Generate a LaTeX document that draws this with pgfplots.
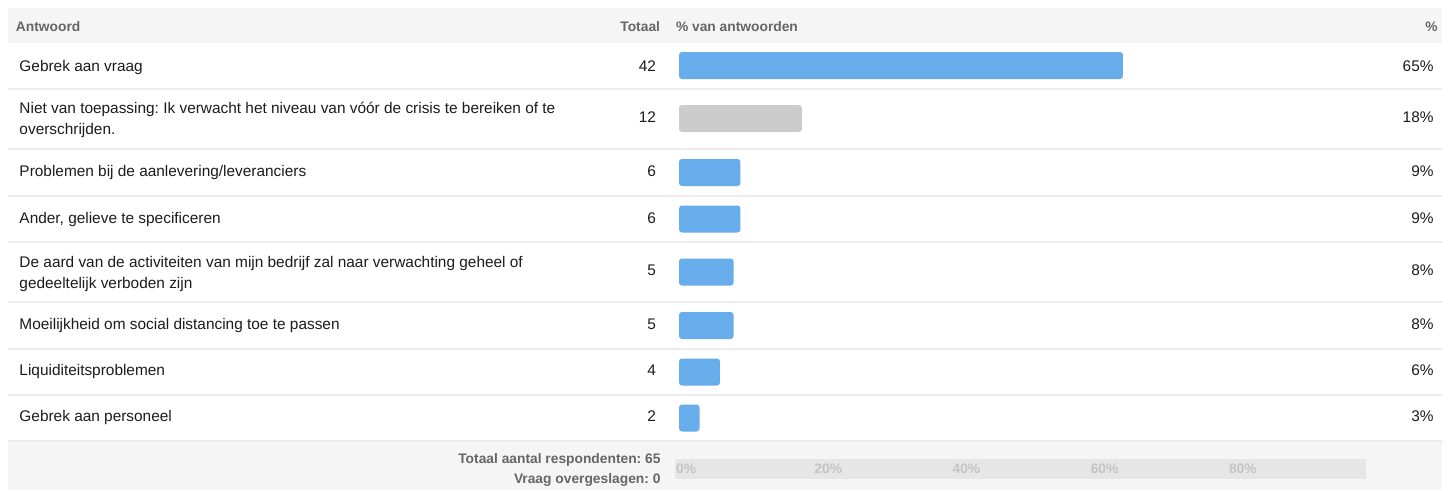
\documentclass[border=0pt]{standalone}
\usepackage{fontspec}
\setmainfont{Liberation Sans}
\usepackage{pgfplots}
\usepackage{pgfplotstable}
\pgfplotsset{compat=1.18}
\frenchspacing
\definecolor{headbg}{HTML}{F5F5F5}
\definecolor{sepc}{HTML}{EBEBEB}
\definecolor{headtxt}{HTML}{666666}
\definecolor{barblue}{HTML}{67ACEB}
\definecolor{bargray}{HTML}{CCCCCC}
\definecolor{footaxis}{HTML}{E6E6E6}
\definecolor{footlbl}{HTML}{C4C4C4}
\definecolor{bodytxt}{HTML}{1C1C1C}

% row centre (negative pixel y) and percentage
\pgfplotstableread{
y pct
-65.5 65
-172.5 9
-219 9
-272 8
-325.5 8
-372 6
-418 3
}\bluebars
\pgfplotstableread{
y pct
-118.5 18
}\graybars

\newcommand{\bodyf}{\fontsize{15.4}{18}\selectfont}
\newcommand{\headf}{\fontsize{13.8}{16}\selectfont\bfseries}

\begin{document}
\begin{tikzpicture}
\begin{scope}[x=1pt,y=-1pt]
  \fill[white] (0,0) rectangle (1450,490);
  \fill[headbg] (8,8) rectangle (1442,43);
  \fill[headbg] (8,441) rectangle (1442,490);
  \foreach \yy in {88.5,149,196,242.3,301.7,349,395,441}
    \fill[sepc] (8,\yy-1) rectangle (1442,\yy+1);
\end{scope}

\begin{axis}[
  at={(679pt,-441pt)}, anchor=south west,
  scale only axis, width=683pt, height=398pt,
  xmin=0, xmax=100, ymin=-441, ymax=-43,
  axis line style={draw=none}, tick style={draw=none},
  xtick=\empty, ytick=\empty,
  xbar, bar width=27pt, bar shift=0pt, clip=false,
]
  \addplot[fill=barblue, draw=none, rounded corners=3pt] table[x=pct, y=y] {\bluebars};
  \addplot[fill=bargray, draw=none, rounded corners=3pt] table[x=pct, y=y] {\graybars};
\end{axis}

\begin{axis}[
  at={(675pt,-479pt)}, anchor=south west,
  scale only axis, width=691pt, height=20pt,
  xmin=0, xmax=100, ymin=0, ymax=1,
  axis line style={draw=none}, tick style={draw=none},
  ytick=\empty, xtick={0,20,40,60,80},
  xticklabels={0\%,20\%,40\%,60\%,80\%},
  xticklabel style={anchor=west, inner sep=0pt, xshift=1pt, yshift=10pt,
    font=\fontsize{13.8}{16}\selectfont\bfseries, text=footlbl},
  axis background/.style={fill=footaxis},
]
\end{axis}

\begin{scope}[x=1pt,y=-1pt, every node/.style={inner sep=0pt, outer sep=0pt}]
  % header
  \node[anchor=base west, text=headtxt, font=\headf] at (16,31.5) {Antwoord};
  \node[anchor=base east, text=headtxt, font=\headf] at (660,31.5) {Totaal};
  \node[anchor=base west, text=headtxt, font=\headf] at (676,31.5) {\% van antwoorden};
  \node[anchor=base east, text=headtxt, font=\headf] at (1437.5,31.5) {\%};
  % labels
  \begin{scope}[every node/.append style={anchor=base west, text=bodytxt, font=\bodyf}]
    \node at (19.5,71) {Gebrek aan vraag};
    \node at (19.5,113.5) {Niet van toepassing: Ik verwacht het niveau van vóór de crisis te bereiken of te};
    \node at (19.5,134.5) {overschrijden.};
    \node at (19.5,176) {Problemen bij de aanlevering/leveranciers};
    \node at (19.5,223.3) {Ander, gelieve te specificeren};
    \node at (19.5,267.3) {De aard van de activiteiten van mijn bedrijf zal naar verwachting geheel of};
    \node at (19.5,288.3) {gedeeltelijk verboden zijn};
    \node at (19.5,329.5) {Moeilijkheid om social distancing toe te passen};
    \node at (19.5,375.5) {Liquiditeitsproblemen};
    \node at (19.5,421.7) {Gebrek aan personeel};
  \end{scope}
  \begin{scope}[every node/.append style={anchor=base east, text=bodytxt, font=\bodyf}]
    \node at (656,71) {42};
    \node at (656,122.5) {12};
    \node at (656,176) {6};
    \node at (656,223.3) {6};
    \node at (656,275.8) {5};
    \node at (656,329.5) {5};
    \node at (656,375.5) {4};
    \node at (656,421.7) {2};
    \node at (1433.5,71) {65\%};
    \node at (1433.5,122.5) {18\%};
    \node at (1433.5,176) {9\%};
    \node at (1433.5,223.3) {9\%};
    \node at (1433.5,275.8) {8\%};
    \node at (1433.5,329.5) {8\%};
    \node at (1433.5,375.5) {6\%};
    \node at (1433.5,421.7) {3\%};
  \end{scope}
  % footer
  \node[anchor=base east, text=headtxt, font=\headf] at (660.5,463.5) {Totaal aantal respondenten: 65};
  \node[anchor=base east, text=headtxt, font=\headf] at (660.5,483.5) {Vraag overgeslagen: 0};
\end{scope}
\pgfresetboundingbox
\path[use as bounding box] (0pt,0pt) rectangle (1450pt,-490pt);
\end{tikzpicture}
\end{document}
